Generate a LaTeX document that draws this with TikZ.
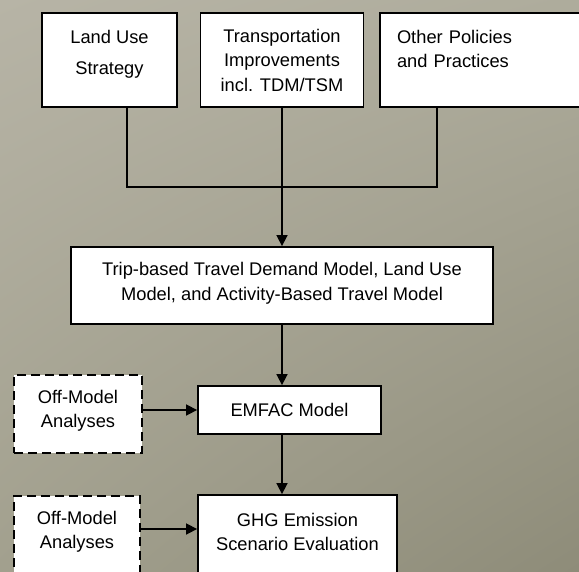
\documentclass[tikz,border=0pt]{standalone}
\usepackage{fontspec}
\setmainfont{Liberation Sans}
\usepackage{xcolor}
\usetikzlibrary{arrows.meta, shadings}

\definecolor{fondhg}{HTML}{B7B4A6}
\definecolor{fondhd}{HTML}{AEAC9C}
\definecolor{fondbg}{HTML}{A2A08E}
\definecolor{fondbd}{HTML}{8E8C79}

% strut de profondeur donnee
\newcommand{\bas}[1]{\rule[-#1]{0pt}{#1}}

\tikzset{
    boite/.style={draw, line width=1.8pt, fill=white, inner sep=0pt, align=center,
        font=\fontsize{18.3}{24.5}\selectfont},
    boitept/.style={boite, dash pattern=on 9pt off 5pt},
    trait/.style={line width=1.6pt},
}

\begin{document}
\begin{tikzpicture}[x=1pt, y=-1pt, >={Triangle[length=11pt,width=11pt]}]
        % Fond
        \useasboundingbox (0,0) rectangle (579,571);
        \clip (0,0) rectangle (579,571);
        \shade[upper left=fondhg, upper right=fondhd, lower left=fondbg, lower right=fondbd]
            (0,0) rectangle (579,571);

        % Boites du haut
        \node[boite, minimum width=135pt, minimum height=94pt] (land) at (109.5,60)
            {Land Use\\[6.5pt]Strategy\bas{15pt}};
        \node[boite, minimum width=163pt, minimum height=94pt] (trans) at (282,60)
            {Transportation\\Improvements\\incl. TDM/TSM};
        \node[boite, minimum width=220pt, minimum height=94pt, text width=186pt,
            align=left, inner xsep=17pt] (other) at (490,60)
            {Other Policies\\and Practices\bas{22pt}};

        % Modeles
        \node[boite, minimum width=422pt, minimum height=77pt] (model) at (282,285.5)
            {Trip-based Travel Demand Model, Land Use\\Model, and Activity-Based Travel Model\bas{8pt}};
        \node[boite, minimum width=183pt, minimum height=48pt] (emfac) at (289.5,410)
            {EMFAC Model};
        \node[boite, minimum width=199pt, minimum height=100pt] (ghg) at (297.5,545)
            {GHG Emission\\Scenario Evaluation\bas{26pt}};

        % Analyses hors modele (pointilles)
        \node[boitept, minimum width=128pt, minimum height=78pt] (off1) at (78,414)
            {Off-Model\\Analyses\bas{10pt}};
        \node[boitept, minimum width=126pt, minimum height=78pt] (off2) at (77,535)
            {Off-Model\\Analyses\bas{10pt}};

        % Liaisons
        \coordinate (bus) at (282,187);
        \draw[trait] ([xshift=17.5pt]land.south) |- (bus);
        \draw[trait] ([xshift=-53pt]other.south) |- (bus);
        \draw[trait, ->] (trans.south) -- (model.north);
        \draw[trait, ->] (model.south) -- (model.south |- emfac.north);
        \draw[trait, ->] (model.south |- emfac.south) -- (model.south |- ghg.north);
        \draw[trait, ->] (off1.east |- emfac.west) -- (emfac.west);
        \draw[trait, ->] ([yshift=6pt]off2.east) -- ([yshift=6pt]off2.east -| ghg.west);
\end{tikzpicture}
\end{document}
